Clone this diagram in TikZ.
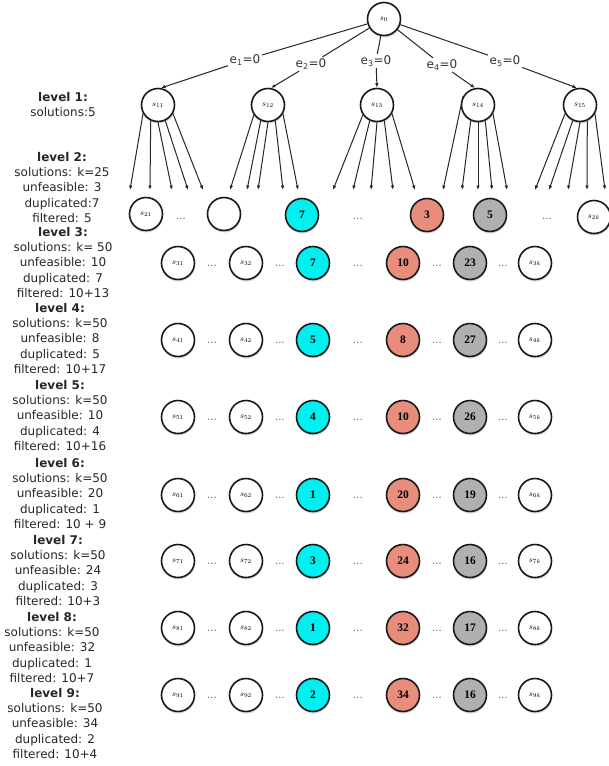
\documentclass[tikz,border=0pt]{standalone}
\usepackage{fontspec}
\setmainfont{DejaVu Sans}
\newfontfamily\serifnum{Liberation Serif}
\usetikzlibrary{shadows,arrows.meta}
\definecolor{cy}{RGB}{0,240,240}
\definecolor{sal}{RGB}{232,140,124}
\definecolor{gr}{RGB}{176,176,176}
\begin{document}
\begin{tikzpicture}[x=1pt,y=-1pt,
 st/.style={circle,draw=black!90,line width=1.6pt,minimum size=33pt,inner sep=0pt,fill=white,
   drop shadow={shadow xshift=0.5pt,shadow yshift=-2pt,opacity=0.3}},
 sl/.style={st,font=\fontsize{8.5}{9}\selectfont},
 numf/.style={st,font=\serifnum\bfseries\fontsize{11.5}{12}\selectfont},
 cyn/.style={numf,fill=cy},
 saln/.style={numf,fill=sal},
 grn/.style={numf,fill=gr},
 dts/.style={font=\fontsize{10}{10}\selectfont,text=black!60,inner sep=0pt},
 lab/.style={font=\fontsize{12}{14}\selectfont,text=black!80,inner sep=1.5pt},
 arr/.style={-{Latex[length=4.5pt,width=3.5pt]},line width=1pt,draw=black!85},
 ln/.style={line width=1pt,draw=black!85},
 info/.style={align=center,font=\fontsize{12}{15.3}\selectfont,text=black!85,inner sep=0pt,anchor=north},
]
\useasboundingbox (0,0) rectangle (608,766);

% root and level 1
\node[sl] (s0) at (384,19) {$s_0$};
\node[sl] (s11) at (158,105) {$s_{11}$};
\node[sl] (s12) at (268,105) {$s_{12}$};
\node[sl] (s13) at (377,105) {$s_{13}$};
\node[sl] (s14) at (478,105) {$s_{14}$};
\node[sl] (s15) at (580,105) {$s_{15}$};

\node[lab] (l1) at (245,60) {e\textsubscript{1}=0};
\node[lab] (l2) at (311,64) {e\textsubscript{2}=0};
\node[lab] (l3) at (376,61) {e\textsubscript{3}=0};
\node[lab] (l4) at (442,65) {e\textsubscript{4}=0};
\node[lab] (l5) at (505,61) {e\textsubscript{5}=0};

\draw[ln] (s0) -- (l1); \draw[arr] (l1) -- (s11.80);
\draw[ln] (s0) -- (l2); \draw[arr] (l2) -- (s12.80);
\draw[ln] (s0) -- (l3); \draw[arr] (l3) -- (s13.north);
\draw[ln] (s0) -- (l4); \draw[arr] (l4) -- (s14.100);
\draw[ln] (s0) -- (l5); \draw[arr] (l5) -- (s15.100);

% arrows from level 1
\foreach \n/\ta/\tb/\tc/\td/\te/\af in {11/130/150/172/188/203/210, 12/230/247/258/283/298/215,
   13/333/353/371/393/415/215, 14/443/462/478/492/507/150, 15/535/549/568/587/605/210}{
  \coordinate (t\n a) at (\ta,190);
  \coordinate (t\n b) at (\tb,190);
  \coordinate (t\n c) at (\tc,190);
  \coordinate (t\n d) at (\td,190);
  \coordinate (t\n e) at (\te,190);
  \draw[arr] (s\n.\af) -- (t\n a);
  \draw[arr] (s\n.245) -- (t\n b);
  \draw[arr] (s\n.270) -- (t\n c);
  \draw[arr] (s\n.295) -- (t\n d);
  \draw[arr] (s\n.330) -- (t\n e);
}

% level 2
\node[sl] (s21) at (146,214) {$s_{21}$};
\node[st] (s22) at (224,214) {};
\node[cyn] (c2) at (302,215) {7};
\node[saln] (r2) at (427,215) {3};
\node[grn] (g2) at (490,215) {5};
\node[sl] (s2k) at (594,217) {$s_{2k}$};
\node[dts] (d21) at (181,219) {...};
\node[dts] (d22) at (358,219) {...};
\node[dts] (d23) at (547,219) {...};

% levels 3..9
\foreach \r/\y/\cv/\rv/\gv in {3/263/7/10/23, 4/340/5/8/27, 5/417/4/10/26, 6/495/1/20/19,
   7/561/3/24/16, 8/628/1/32/17, 9/695/2/34/16}{
  \node[sl] (n\r a) at (178,\y) {$s_{\r1}$};
  \node[sl] (n\r b) at (246,\y) {$s_{\r2}$};
  \node[cyn] (n\r c) at (313,\y) {\cv};
  \node[saln] (n\r d) at (403,\y) {\rv};
  \node[grn] (n\r e) at (470,\y) {\gv};
  \node[sl] (n\r f) at (535,\y) {$s_{\r k}$};
  \node[dts] (p\r a) at (212,\y+3) {...};
  \node[dts] (p\r b) at (280,\y+3) {...};
  \node[dts] (p\r c) at (358,\y+3) {...};
  \node[dts] (p\r d) at (437,\y+3) {...};
  \node[dts] (p\r e) at (503,\y+3) {...};
}

% left info
\node[info] (i1) at (63,92) {\textbf{level 1:}\\solutions:5};
\node[info] (i2) at (62,152) {\textbf{level 2:}\\solutions: k=25\\unfeasible: 3\\duplicated:7\\filtered: 5};
\node[info] (i3) at (63,227) {\textbf{level 3:}\\solutions: k= 50\\unfeasible: 10\\duplicated: 7\\filtered: 10+13};
\node[info] (i4) at (60,303) {\textbf{level 4:}\\solutions: k=50\\unfeasible: 8\\duplicated: 5\\filtered: 10+17};
\node[info] (i5) at (60,380) {\textbf{level 5:}\\solutions: k=50\\unfeasible: 10\\duplicated: 4\\filtered: 10+16};
\node[info] (i6) at (60,458) {\textbf{level 6:}\\solutions: k=50\\unfeasible: 20\\duplicated: 1\\filtered: 10 + 9};
\node[info] (i7) at (58,535) {\textbf{level 7:}\\solutions: k=50\\unfeasible: 24\\duplicated: 3\\filtered: 10+3};
\node[info] (i8) at (52,612) {\textbf{level 8:}\\solutions: k=50\\unfeasible: 32\\duplicated: 1\\filtered: 10+7};
\node[info] (i9) at (55,688) {\textbf{level 9:}\\solutions: k=50\\unfeasible: 34\\duplicated: 2\\filtered: 10+4};
\end{tikzpicture}
\end{document}
